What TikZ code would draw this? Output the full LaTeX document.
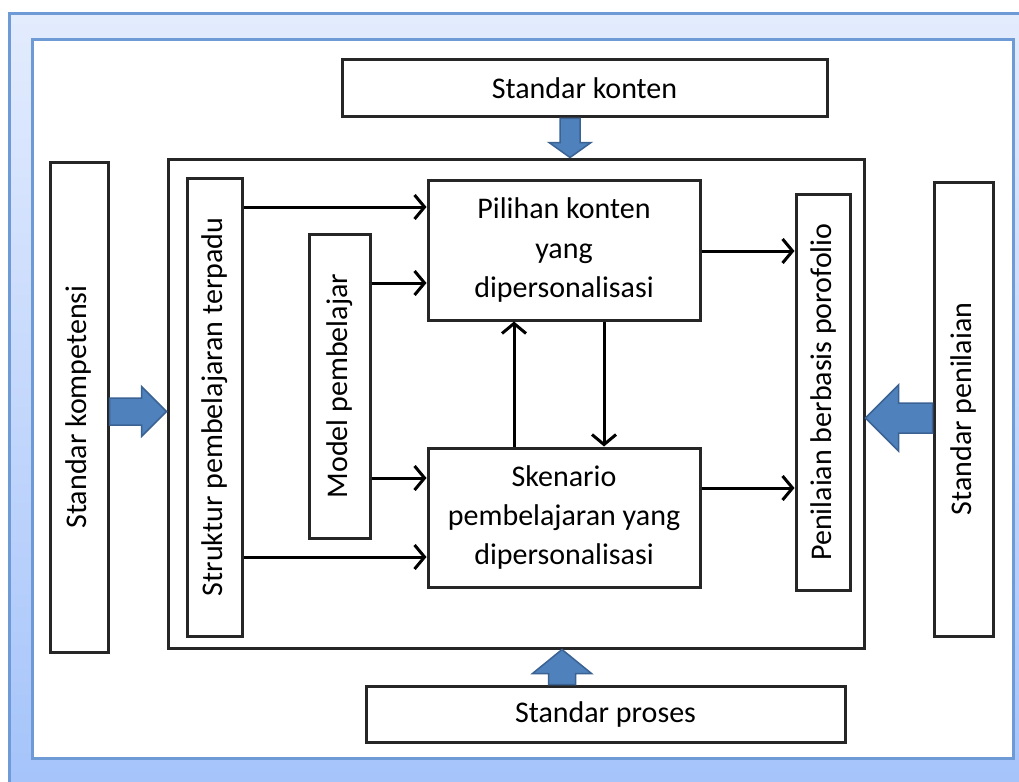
\documentclass[tikz,border=0pt]{standalone}
\usepackage{fontspec}
\setmainfont{Carlito}
\usetikzlibrary{arrows.meta,calc}
\definecolor{frameblue}{HTML}{6E9AD6}
\definecolor{paneltop}{HTML}{E3ECFD}
\definecolor{panelbottom}{HTML}{A4C3FA}
\definecolor{boxline}{HTML}{262626}
\definecolor{arrowfill}{HTML}{4F81BD}
\definecolor{arrowline}{HTML}{3A6394}
\begin{document}
\begin{tikzpicture}[x=1pt,y=-1pt,
  box/.style={draw=boxline,line width=3pt,fill=white,inner sep=0pt,
    align=center,font=\fontsize{30}{39}\selectfont},
  link/.style={draw=black,line width=3pt,
    -{Straight Barb[length=10pt,width=24pt]}},
  blk/.style={fill=arrowfill,draw=arrowline,line width=1.5pt,line join=miter}]
\useasboundingbox (0,0) rectangle (1019,781);
% blue panel and white sheet
\shade[top color=paneltop,bottom color=panelbottom] (9,14) rectangle (1040,800);
\draw[frameblue,line width=3pt] (9,14) rectangle (1040,800);
\draw[fill=white,draw=frameblue,line width=3pt] (32,40) rectangle (1013,758);

% main frame
\node[draw=boxline,line width=3pt,minimum width=696pt,minimum height=489pt,inner sep=0pt] (frame) at (516,403.5) {};

% outer standards
\node[box,minimum width=485pt,minimum height=57pt] (konten) at (584.5,88.5) {Standar konten};
\node[box,minimum width=479pt,minimum height=56pt] (proses) at (605.5,714) {Standar proses};
\node[box,rotate=90,minimum width=490pt,minimum height=58pt] (kompetensi) at (79,407) {Standar kompetensi};
\node[box,rotate=90,minimum width=454pt,minimum height=59pt] (penilaian) at (963.5,409) {Standar penilaian};

% inner blocks
\node[box,rotate=90,minimum width=458pt,minimum height=55pt] (struktur) at (214.5,407) {Struktur pembelajaran terpadu};
\node[box,rotate=90,minimum width=304pt,minimum height=61pt] (model) at (339.5,386) {Model pembelajar};
\node[box,minimum width=272pt,minimum height=140pt] (pilihan) at (564,250) {Pilihan konten\\yang\\dipersonalisasi};
\node[box,minimum width=272pt,minimum height=139pt] (skenario) at (564,517.5) {Skenario\\pembelajaran yang\\dipersonalisasi};
\node[box,rotate=90,minimum width=396pt,minimum height=54pt] (porto) at (823,392) {Penilaian berbasis porofolio};

% connectors
\draw[link] (struktur.south |- 0,207) -- (pilihan.west |- 0,207);
\draw[link] (model.south |- 0,283) -- (pilihan.west |- 0,283);
\draw[link] (model.south |- 0,478) -- (skenario.west |- 0,478);
\draw[link] (struktur.south |- 0,557) -- (skenario.west |- 0,557);
\draw[link] (pilihan.east |- 0,251) -- (porto.north |- 0,251);
\draw[link] (skenario.east |- 0,488) -- (porto.north |- 0,488);
\draw[link] (skenario.north -| 514,0) -- (pilihan.south -| 514,0);
\draw[link] (pilihan.south -| 604,0) -- (skenario.north -| 604,0);

% block arrows into the frame
\coordinate (kt) at (konten.south -| 570,0);
\coordinate (kh) at (frame.north -| 570,0);
\draw[blk] ($(kt)+(-10,0)$) -- ($(kt)+(10,0)$) -- ($(kh)+(10,-15)$) -- ($(kh)+(21,-15)$)
  -- (kh) -- ($(kh)+(-21,-15)$) -- ($(kh)+(-10,-15)$) -- cycle;

\coordinate (pt) at (proses.north -| 562,0);
\coordinate (ph) at (frame.south -| 562,0);
\draw[blk] ($(pt)+(-13.5,0)$) -- ($(pt)+(13.5,0)$) -- ($(ph)+(13.5,24)$) -- ($(ph)+(29.5,24)$)
  -- (ph) -- ($(ph)+(-29.5,24)$) -- ($(ph)+(-13.5,24)$) -- cycle;

\coordinate (ct) at (kompetensi.south |- 0,411.5);
\coordinate (ch) at (frame.west |- 0,411.5);
\draw[blk] ($(ct)+(0,-13.5)$) -- ($(ct)+(0,13.5)$) -- ($(ch)+(-25,13.5)$) -- ($(ch)+(-25,25)$)
  -- (ch) -- ($(ch)+(-25,-25)$) -- ($(ch)+(-25,-13.5)$) -- cycle;

\coordinate (nt) at (penilaian.north |- 0,418);
\coordinate (nh) at (frame.east |- 0,418);
\draw[blk] ($(nt)+(0,-15)$) -- ($(nt)+(0,15)$) -- ($(nh)+(33,15)$) -- ($(nh)+(33,33)$)
  -- (nh) -- ($(nh)+(33,-33)$) -- ($(nh)+(33,-15)$) -- cycle;
\end{tikzpicture}
\end{document}
